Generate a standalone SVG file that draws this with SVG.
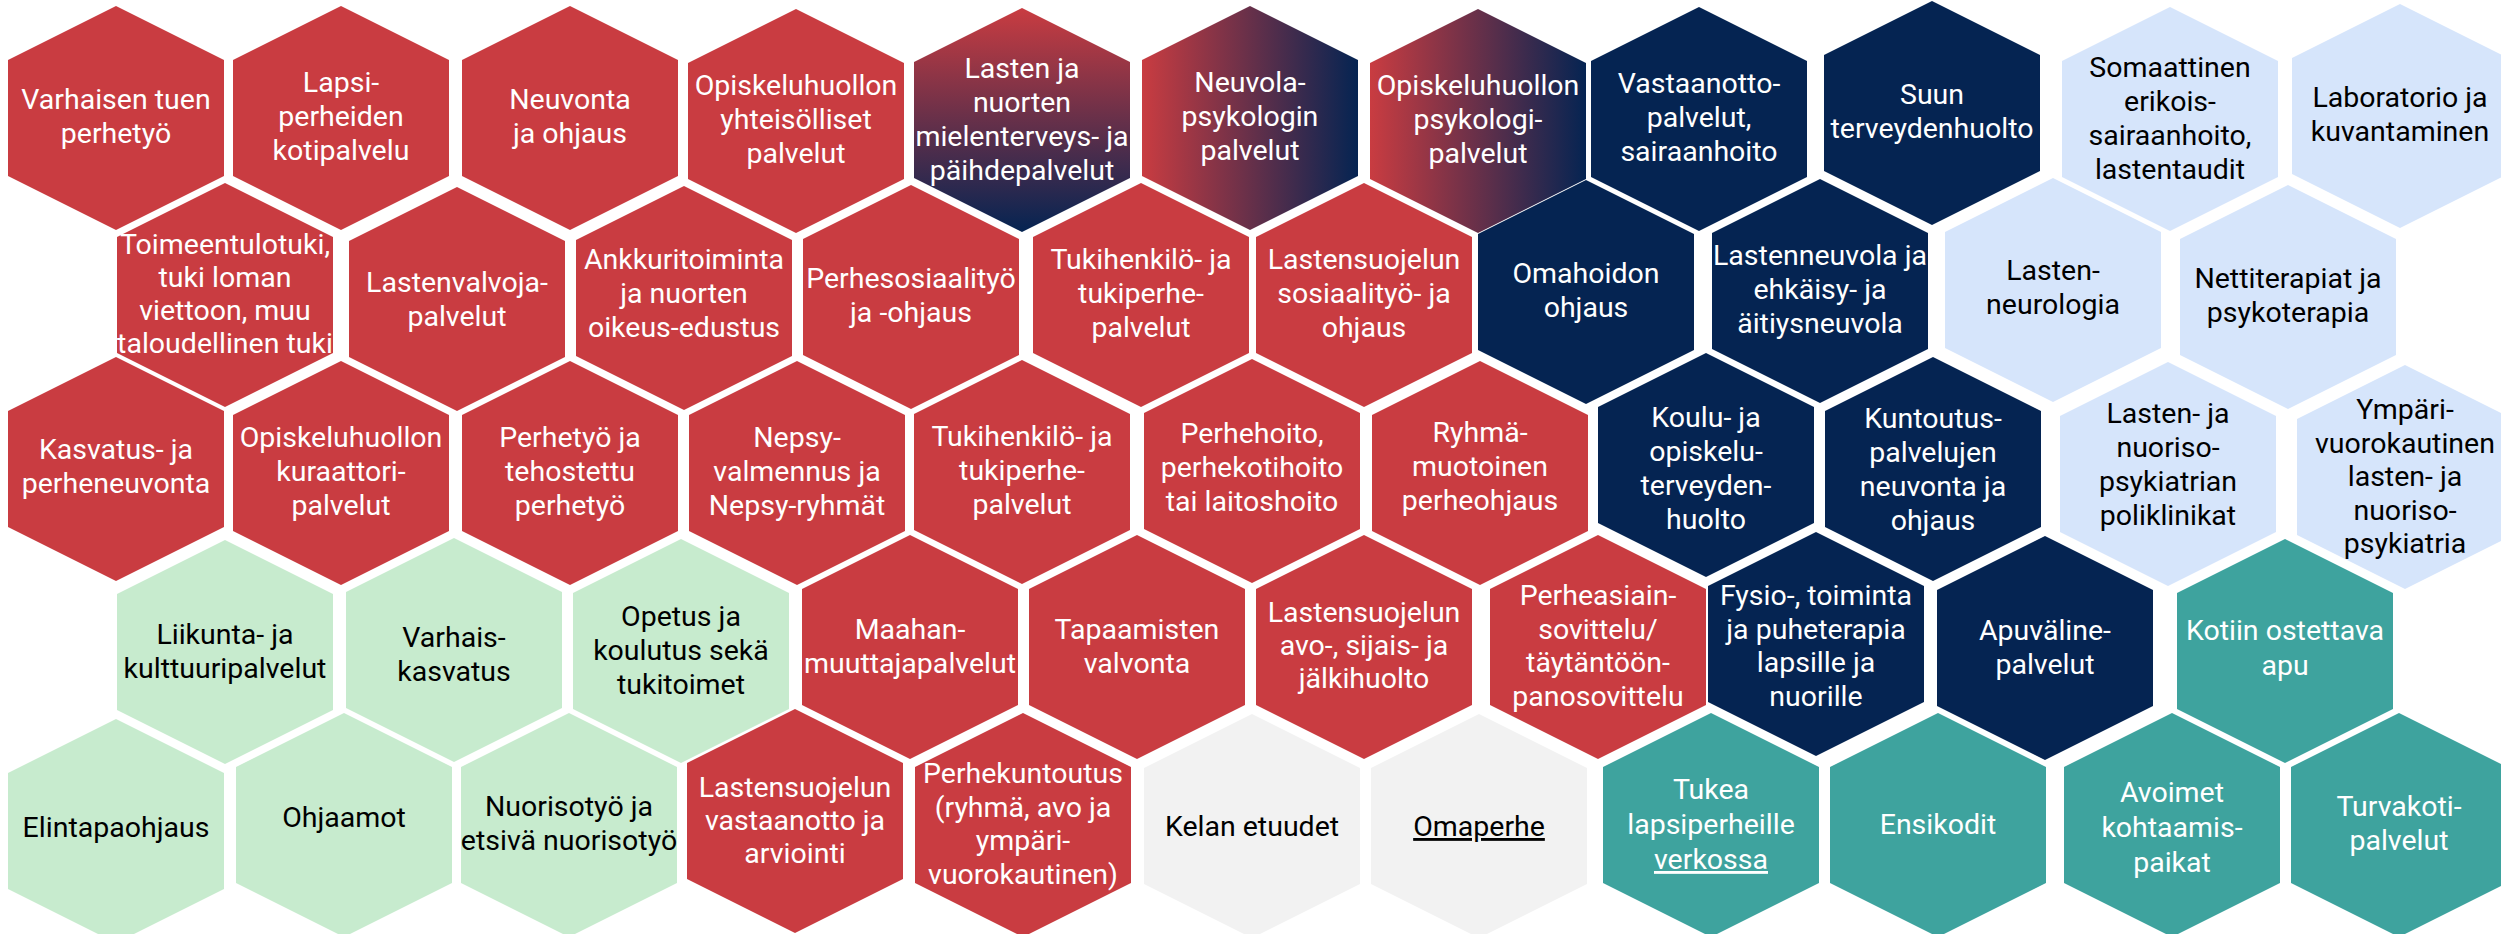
<svg xmlns="http://www.w3.org/2000/svg" xmlns:xlink="http://www.w3.org/1999/xlink" width="2501" height="934" viewBox="0 0 2501 934">
<style>
.red{fill:#C93C41}
.navy{fill:#052452}
.lb{fill:#D6E5FB}
.lg{fill:#C7EBCE}
.teal{fill:#3EA39E}
.gray{fill:#F2F2F2}
.gv{fill:url(#gradV)}
.gh{fill:url(#gradH)}
text{font-family:Roboto,"Liberation Sans",sans-serif;font-size:28.5px;text-anchor:middle}
.w{fill:#FFFFFF}
.k{fill:#000000}
.u{text-decoration:underline}
</style>
<defs>
<polygon id="hx" points="0,-112 108,-58 108,58 0,112 -108,58 -108,-58"/>
<linearGradient id="gradV" x1="0" y1="0" x2="0" y2="1">
<stop offset="0" stop-color="#C93C41"/>
<stop offset="1" stop-color="#052452"/>
</linearGradient>
<linearGradient id="gradH" x1="0" y1="0" x2="1" y2="0">
<stop offset="0" stop-color="#C93C41"/>
<stop offset="1" stop-color="#052452"/>
</linearGradient>
</defs>
<rect width="2501" height="934" fill="#FFFFFF"/>
<g id="connectors"/>

<!-- Row 1 -->
<g id="n-varhaisen"><use href="#hx" x="116" y="118" class="red"/><text class="w" y="109"><tspan x="116">Varhaisen tuen</tspan><tspan x="116" dy="34">perhetyö</tspan></text></g>
<g id="n-lapsiperheiden"><use href="#hx" x="341" y="118" class="red"/><text class="w" y="92"><tspan x="341">Lapsi-</tspan><tspan x="341" dy="34">perheiden</tspan><tspan x="341" dy="34">kotipalvelu</tspan></text></g>
<g id="n-neuvonta"><use href="#hx" x="570" y="118" class="red"/><text class="w" y="109"><tspan x="570">Neuvonta</tspan><tspan x="570" dy="34">ja ohjaus</tspan></text></g>
<g id="n-opisk-yht"><use href="#hx" x="796" y="121" class="red"/><text class="w" y="95"><tspan x="796">Opiskeluhuollon</tspan><tspan x="796" dy="34">yhteisölliset</tspan><tspan x="796" dy="34">palvelut</tspan></text></g>
<g id="n-mielenterveys"><use href="#hx" x="1022" y="120" class="gv"/><text class="w" y="78"><tspan x="1022">Lasten ja</tspan><tspan x="1022" dy="34">nuorten</tspan><tspan x="1022" dy="34">mielenterveys- ja</tspan><tspan x="1022" dy="34">päihdepalvelut</tspan></text></g>
<g id="n-neuvolapsyk"><use href="#hx" x="1250" y="118" class="gh"/><text class="w" y="92"><tspan x="1250">Neuvola-</tspan><tspan x="1250" dy="34">psykologin</tspan><tspan x="1250" dy="34">palvelut</tspan></text></g>
<g id="n-opisk-psyk"><use href="#hx" x="1478" y="121" class="gh"/><text class="w" y="95"><tspan x="1478">Opiskeluhuollon</tspan><tspan x="1478" dy="34">psykologi-</tspan><tspan x="1478" dy="34">palvelut</tspan></text></g>
<g id="n-vastaanotto"><use href="#hx" x="1699" y="119" class="navy"/><text class="w" y="93"><tspan x="1699">Vastaanotto-</tspan><tspan x="1699" dy="34">palvelut,</tspan><tspan x="1699" dy="34">sairaanhoito</tspan></text></g>
<g id="n-suun"><use href="#hx" x="1932" y="113" class="navy"/><text class="w" y="104"><tspan x="1932">Suun</tspan><tspan x="1932" dy="34">terveydenhuolto</tspan></text></g>
<g id="n-somaattinen"><use href="#hx" x="2170" y="119" class="lb"/><text class="k" y="77"><tspan x="2170">Somaattinen</tspan><tspan x="2170" dy="34">erikois-</tspan><tspan x="2170" dy="34">sairaanhoito,</tspan><tspan x="2170" dy="34">lastentaudit</tspan></text></g>
<g id="n-laboratorio"><use href="#hx" x="2400" y="116" class="lb"/><text class="k" y="107"><tspan x="2400">Laboratorio ja</tspan><tspan x="2400" dy="34">kuvantaminen</tspan></text></g>

<!-- Row 2 -->
<g id="n-toimeentulotuki"><use href="#hx" x="225" y="295" class="red"/><text class="w" y="254"><tspan x="225">Toimeentulotuki,</tspan><tspan x="225" dy="33">tuki loman</tspan><tspan x="225" dy="33">viettoon, muu</tspan><tspan x="225" dy="33">taloudellinen tuki</tspan></text></g>
<g id="n-lastenvalvoja"><use href="#hx" x="457" y="299" class="red"/><text class="w" y="292"><tspan x="457">Lastenvalvoja-</tspan><tspan x="457" dy="34">palvelut</tspan></text></g>
<g id="n-ankkuri"><use href="#hx" x="684" y="298" class="red"/><text class="w" y="269"><tspan x="684">Ankkuritoiminta</tspan><tspan x="684" dy="34">ja nuorten</tspan><tspan x="684" dy="34">oikeus-edustus</tspan></text></g>
<g id="n-perhesosiaali"><use href="#hx" x="911" y="297" class="red"/><text class="w" y="288"><tspan x="911">Perhesosiaalityö</tspan><tspan x="911" dy="34">ja -ohjaus</tspan></text></g>
<g id="n-tukihenkilo1"><use href="#hx" x="1141" y="295" class="red"/><text class="w" y="269"><tspan x="1141">Tukihenkilö- ja</tspan><tspan x="1141" dy="34">tukiperhe-</tspan><tspan x="1141" dy="34">palvelut</tspan></text></g>
<g id="n-ls-sosiaali"><use href="#hx" x="1364" y="295" class="red"/><text class="w" y="269"><tspan x="1364">Lastensuojelun</tspan><tspan x="1364" dy="34">sosiaalityö- ja</tspan><tspan x="1364" dy="34">ohjaus</tspan></text></g>
<g id="n-omahoidon"><use href="#hx" x="1586" y="292" class="navy"/><text class="w" y="283"><tspan x="1586">Omahoidon</tspan><tspan x="1586" dy="34">ohjaus</tspan></text></g>
<g id="n-lastenneuvola"><use href="#hx" x="1820" y="291" class="navy"/><text class="w" y="265"><tspan x="1820">Lastenneuvola ja</tspan><tspan x="1820" dy="34">ehkäisy- ja</tspan><tspan x="1820" dy="34">äitiysneuvola</tspan></text></g>
<g id="n-neurologia"><use href="#hx" x="2053" y="290" class="lb"/><text class="k" y="280"><tspan x="2053">Lasten-</tspan><tspan x="2053" dy="34">neurologia</tspan></text></g>
<g id="n-nettiterapiat"><use href="#hx" x="2288" y="297" class="lb"/><text class="k" y="288"><tspan x="2288">Nettiterapiat ja</tspan><tspan x="2288" dy="34">psykoterapia</tspan></text></g>

<!-- Row 3 -->
<g id="n-kasvatus"><use href="#hx" x="116" y="469" class="red"/><text class="w" y="459"><tspan x="116">Kasvatus- ja</tspan><tspan x="116" dy="34">perheneuvonta</tspan></text></g>
<g id="n-kuraattori"><use href="#hx" x="341" y="473" class="red"/><text class="w" y="447"><tspan x="341">Opiskeluhuollon</tspan><tspan x="341" dy="34">kuraattori-</tspan><tspan x="341" dy="34">palvelut</tspan></text></g>
<g id="n-perhetyo"><use href="#hx" x="570" y="473" class="red"/><text class="w" y="447"><tspan x="570">Perhetyö ja</tspan><tspan x="570" dy="34">tehostettu</tspan><tspan x="570" dy="34">perhetyö</tspan></text></g>
<g id="n-nepsy"><use href="#hx" x="797" y="473" class="red"/><text class="w" y="447"><tspan x="797">Nepsy-</tspan><tspan x="797" dy="34">valmennus ja</tspan><tspan x="797" dy="34">Nepsy-ryhmät</tspan></text></g>
<g id="n-tukihenkilo2"><use href="#hx" x="1022" y="472" class="red"/><text class="w" y="446"><tspan x="1022">Tukihenkilö- ja</tspan><tspan x="1022" dy="34">tukiperhe-</tspan><tspan x="1022" dy="34">palvelut</tspan></text></g>
<g id="n-perhehoito"><use href="#hx" x="1252" y="471" class="red"/><text class="w" y="443"><tspan x="1252">Perhehoito,</tspan><tspan x="1252" dy="34">perhekotihoito</tspan><tspan x="1252" dy="34">tai laitoshoito</tspan></text></g>
<g id="n-ryhma"><use href="#hx" x="1480" y="473" class="red"/><text class="w" y="442"><tspan x="1480">Ryhmä-</tspan><tspan x="1480" dy="34">muotoinen</tspan><tspan x="1480" dy="34">perheohjaus</tspan></text></g>
<g id="n-koulu"><use href="#hx" x="1706" y="465" class="navy"/><text class="w" y="427"><tspan x="1706">Koulu- ja</tspan><tspan x="1706" dy="34">opiskelu-</tspan><tspan x="1706" dy="34">terveyden-</tspan><tspan x="1706" dy="34">huolto</tspan></text></g>
<g id="n-kuntoutus"><use href="#hx" x="1933" y="469" class="navy"/><text class="w" y="428"><tspan x="1933">Kuntoutus-</tspan><tspan x="1933" dy="34">palvelujen</tspan><tspan x="1933" dy="34">neuvonta ja</tspan><tspan x="1933" dy="34">ohjaus</tspan></text></g>
<g id="n-psykiatria-pkl"><use href="#hx" x="2168" y="474" class="lb"/><text class="k" y="423"><tspan x="2168">Lasten- ja</tspan><tspan x="2168" dy="34">nuoriso-</tspan><tspan x="2168" dy="34">psykiatrian</tspan><tspan x="2168" dy="34">poliklinikat</tspan></text></g>
<g id="n-ymparivuoro"><use href="#hx" x="2405" y="477" class="lb"/><text class="k" y="419"><tspan x="2405">Ympäri-</tspan><tspan x="2405" dy="33.5">vuorokautinen</tspan><tspan x="2405" dy="33.5">lasten- ja</tspan><tspan x="2405" dy="33.5">nuoriso-</tspan><tspan x="2405" dy="33.5">psykiatria</tspan></text></g>

<!-- Row 4 -->
<g id="n-liikunta"><use href="#hx" x="225" y="652" class="lg"/><text class="k" y="644"><tspan x="225">Liikunta- ja</tspan><tspan x="225" dy="34">kulttuuripalvelut</tspan></text></g>
<g id="n-varhaiskasvatus"><use href="#hx" x="454" y="650" class="lg"/><text class="k" y="647"><tspan x="454">Varhais-</tspan><tspan x="454" dy="34">kasvatus</tspan></text></g>
<g id="n-opetus"><use href="#hx" x="681" y="651" class="lg"/><text class="k" y="626"><tspan x="681">Opetus ja</tspan><tspan x="681" dy="34">koulutus sekä</tspan><tspan x="681" dy="34">tukitoimet</tspan></text></g>
<g id="n-maahanmuuttaja"><use href="#hx" x="910" y="647" class="red"/><text class="w" y="639"><tspan x="910">Maahan-</tspan><tspan x="910" dy="34">muuttajapalvelut</tspan></text></g>
<g id="n-tapaamisten"><use href="#hx" x="1137" y="647" class="red"/><text class="w" y="639"><tspan x="1137">Tapaamisten</tspan><tspan x="1137" dy="34">valvonta</tspan></text></g>
<g id="n-ls-avo"><use href="#hx" x="1364" y="647" class="red"/><text class="w" y="622"><tspan x="1364">Lastensuojelun</tspan><tspan x="1364" dy="33">avo-, sijais- ja</tspan><tspan x="1364" dy="33">jälkihuolto</tspan></text></g>
<g id="n-perheasiain"><use href="#hx" x="1598" y="647" class="red"/><text class="w" y="605"><tspan x="1598">Perheasiain-</tspan><tspan x="1598" dy="33.7">sovittelu/</tspan><tspan x="1598" dy="33.7">täytäntöön-</tspan><tspan x="1598" dy="33.7">panosovittelu</tspan></text></g>
<g id="n-fysio"><use href="#hx" x="1816" y="644" class="navy"/><text class="w" y="605"><tspan x="1816">Fysio-, toiminta</tspan><tspan x="1816" dy="33.5">ja puheterapia</tspan><tspan x="1816" dy="33.5">lapsille ja</tspan><tspan x="1816" dy="33.5">nuorille</tspan></text></g>
<g id="n-apuvaline"><use href="#hx" x="2045" y="648" class="navy"/><text class="w" y="640"><tspan x="2045">Apuväline-</tspan><tspan x="2045" dy="34">palvelut</tspan></text></g>
<g id="n-kotiin"><use href="#hx" x="2285" y="651" class="teal"/><text class="w" y="640"><tspan x="2285">Kotiin ostettava</tspan><tspan x="2285" dy="35">apu</tspan></text></g>

<!-- Row 5 -->
<g id="n-elintapa"><use href="#hx" x="116" y="831" class="lg"/><text class="k" x="116" y="837">Elintapaohjaus</text></g>
<g id="n-ohjaamot"><use href="#hx" x="344" y="825" class="lg"/><text class="k" x="344" y="827">Ohjaamot</text></g>
<g id="n-nuorisotyo"><use href="#hx" x="569" y="825" class="lg"/><text class="k" y="816"><tspan x="569">Nuorisotyö ja</tspan><tspan x="569" dy="34">etsivä nuorisotyö</tspan></text></g>
<g id="n-ls-vastaanotto"><use href="#hx" x="795" y="821" class="red"/><text class="w" y="797"><tspan x="795">Lastensuojelun</tspan><tspan x="795" dy="33">vastaanotto ja</tspan><tspan x="795" dy="33">arviointi</tspan></text></g>
<g id="n-perhekuntoutus"><use href="#hx" x="1023" y="825" class="red"/><text class="w" y="783"><tspan x="1023">Perhekuntoutus</tspan><tspan x="1023" dy="33.7">(ryhmä, avo ja</tspan><tspan x="1023" dy="33.7">ympäri-</tspan><tspan x="1023" dy="33.7">vuorokautinen)</tspan></text></g>
<g id="n-kela"><use href="#hx" x="1252" y="826" class="gray"/><text class="k" x="1252" y="836">Kelan etuudet</text></g>
<g id="n-omaperhe"><use href="#hx" x="1479" y="826" class="gray"/><text class="k u" x="1479" y="836">Omaperhe</text></g>
<g id="n-tukea"><use href="#hx" x="1711" y="825" class="teal"/><text class="w" y="799"><tspan x="1711">Tukea</tspan><tspan x="1711" dy="35">lapsiperheille</tspan><tspan x="1711" dy="35" class="u">verkossa</tspan></text></g>
<g id="n-ensikodit"><use href="#hx" x="1938" y="825" class="teal"/><text class="w" x="1938" y="834">Ensikodit</text></g>
<g id="n-avoimet"><use href="#hx" x="2172" y="825" class="teal"/><text class="w" y="802"><tspan x="2172">Avoimet</tspan><tspan x="2172" dy="35">kohtaamis-</tspan><tspan x="2172" dy="35">paikat</tspan></text></g>
<g id="n-turvakoti"><use href="#hx" x="2399" y="825" class="teal"/><text class="w" y="816"><tspan x="2399">Turvakoti-</tspan><tspan x="2399" dy="34">palvelut</tspan></text></g>
</svg>
